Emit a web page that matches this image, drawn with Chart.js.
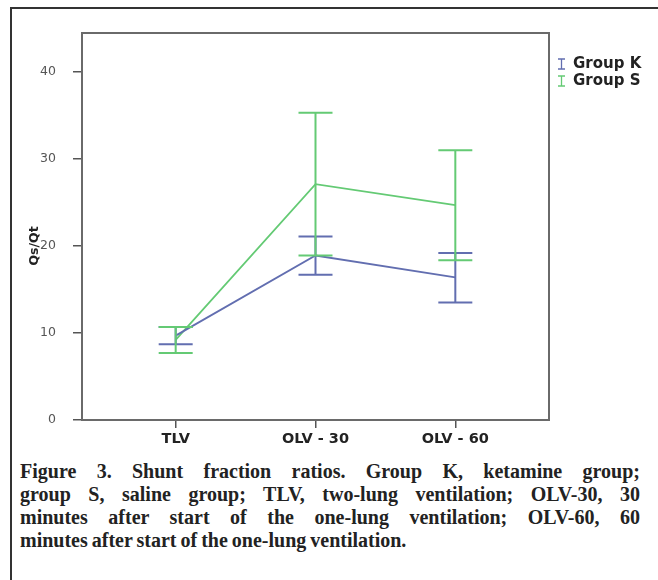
<!DOCTYPE html>
<html>
<head>
<meta charset="utf-8">
<script src="https://cdn.jsdelivr.net/npm/chart.js@4"></script>
<style>
  html, body { margin: 0; padding: 0; background: #fff; }
  body { width: 658px; height: 580px; position: relative; overflow: hidden; }
  #frame {
    position: absolute; left: 10px; top: 7px; width: 700px; height: 600px;
    border-left: 2px solid #333; border-top: 2px solid #333;
  }
  #myChart { position: absolute; left: 0; top: 0; }
  #caption {
    position: absolute; left: 20px; top: 460px; width: 620px;
    font-family: "Liberation Serif", "Times New Roman", serif;
    font-weight: bold; font-size: 20px; line-height: 23px; color: #222;
  }
  #caption .ln { text-align: justify; text-align-last: justify; white-space: nowrap; }
  #caption .ln.last { text-align: left; text-align-last: left; word-spacing: -1px; }
</style>
</head>
<body>
<div id="frame"></div>
<canvas id="myChart" width="658" height="460"></canvas>
<div id="caption">
  <div class="ln">Figure 3. Shunt fraction ratios. Group K, ketamine group;</div>
  <div class="ln">group S, saline group; TLV, two-lung ventilation; OLV-30, 30</div>
  <div class="ln">minutes after start of the one-lung ventilation; OLV-60, 60</div>
  <div class="ln last">minutes after start of the one-lung ventilation.</div>
</div>
<script>
// data
const categories = ["TLV", "OLV - 30", "OLV - 60"];
const groupKMean = [9.7, 18.9, 16.4];
const groupKLow = [8.7, 16.7, 13.5];
const groupKHigh = [10.7, 21.1, 19.2];
const groupSMean = [9.2, 27.1, 24.7];
const groupSLow = [7.7, 18.9, 18.35];
const groupSHigh = [10.7, 35.3, 31.0];
const yTicks = [0, 10, 20, 30, 40];
const yTitle = "Qs/Qt";

const blue = "rgb(98, 110, 176)";
const green = "rgb(100, 202, 116)";
const sans = "'DejaVu Sans', Verdana, sans-serif";

// draw the error bars with the chart's own scales
const errorBars = {
  id: "errorBars",
  afterDatasetsDraw(chart) {
    const ctx = chart.ctx;
    const xs = chart.scales.x;
    const ys = chart.scales.y;
    chart.data.datasets.forEach((ds) => {
      ctx.save();
      ctx.strokeStyle = ds.borderColor;
      ctx.lineWidth = 2;
      ds.low.forEach((lo, i) => {
        const x = xs.getPixelForValue(i);
        const yLo = ys.getPixelForValue(lo);
        const yHi = ys.getPixelForValue(ds.high[i]);
        ctx.beginPath();
        ctx.moveTo(x, yLo);
        ctx.lineTo(x, yHi);
        ctx.moveTo(x - 17, yLo);
        ctx.lineTo(x + 17, yLo);
        ctx.moveTo(x - 17, yHi);
        ctx.lineTo(x + 17, yHi);
        ctx.stroke();
      });
      ctx.restore();
    });
  },
  afterDraw(chart) {
    const ctx = chart.ctx;
    const a = chart.chartArea;
    // plot frame
    ctx.save();
    ctx.strokeStyle = "#6a6a6a";
    ctx.lineWidth = 2;
    ctx.strokeRect(a.left, a.top, a.right - a.left, a.bottom - a.top);
    ctx.restore();

    // y title, SPSS puts it level with the middle tick
    ctx.save();
    ctx.font = "bold 12.5px " + sans;
    ctx.fillStyle = "#222";
    ctx.textAlign = "center";
    ctx.textBaseline = "middle";
    ctx.translate(35, chart.scales.y.getPixelForValue(20));
    ctx.rotate(-Math.PI / 2);
    ctx.fillText(yTitle, 0, 0);
    ctx.restore();

    // legend
    ctx.save();
    ctx.font = "bold 15px " + sans;
    ctx.textBaseline = "middle";
    chart.data.datasets.forEach((ds, i) => {
      const y = 64 + i * 17;
      const x = a.right + 9;
      ctx.strokeStyle = ds.borderColor;
      ctx.lineWidth = 1.3;
      ctx.beginPath();
      ctx.moveTo(x, y - 5);
      ctx.lineTo(x + 7, y - 5);
      ctx.moveTo(x + 3.5, y - 5);
      ctx.lineTo(x + 3.5, y + 5);
      ctx.moveTo(x, y + 5);
      ctx.lineTo(x + 7, y + 5);
      ctx.stroke();
      ctx.fillStyle = "#222";
      ctx.fillText(ds.label, x + 15, y);
    });
    ctx.restore();
  },
};

const chart = new Chart(document.getElementById("myChart").getContext("2d"), {
  type: "line",
  data: {
    datasets: [
      {
        label: "Group K",
        data: groupKMean.map((v, i) => ({ x: i, y: v })),
        low: groupKLow,
        high: groupKHigh,
        borderColor: blue,
        borderWidth: 1.8,
        pointRadius: 0,
        tension: 0,
      },
      {
        label: "Group S",
        data: groupSMean.map((v, i) => ({ x: i, y: v })),
        low: groupSLow,
        high: groupSHigh,
        borderColor: green,
        borderWidth: 1.8,
        pointRadius: 0,
        tension: 0,
      },
    ],
  },
  options: {
    responsive: false,
    animation: false,
    devicePixelRatio: 1,
    layout: { padding: { left: 0, right: 109, top: 33, bottom: 0 } },
    plugins: {
      legend: { display: false },
      tooltip: { enabled: false },
    },
    scales: {
      x: {
        type: "linear",
        min: -0.67,
        max: 2.67,
        afterBuildTicks: (s) => {
          s.ticks = categories.map((c, i) => ({ value: i }));
        },
        afterFit: (s) => {
          s.height = 40;
        },
        ticks: {
          callback: (v) => categories[v],
          font: { family: sans, size: 14.5, weight: "bold" },
          color: "#222",
          padding: 3,
          maxRotation: 0,
        },
        grid: { drawOnChartArea: false, tickLength: 8, color: "#555", lineWidth: 1.5 },
        border: { display: false },
      },
      y: {
        min: 0,
        max: 44.48,
        afterBuildTicks: (s) => {
          s.ticks = yTicks.map((v) => ({ value: v }));
        },
        afterFit: (s) => {
          s.width = 82;
        },
        ticks: {
          font: { family: sans, size: 12.5 },
          color: "#555",
          padding: 17,
        },
        grid: { drawOnChartArea: false, tickLength: 9, color: "#555", lineWidth: 1.5 },
        border: { display: false },
      },
    },
  },
  plugins: [errorBars],
});
</script>
</body>
</html>
